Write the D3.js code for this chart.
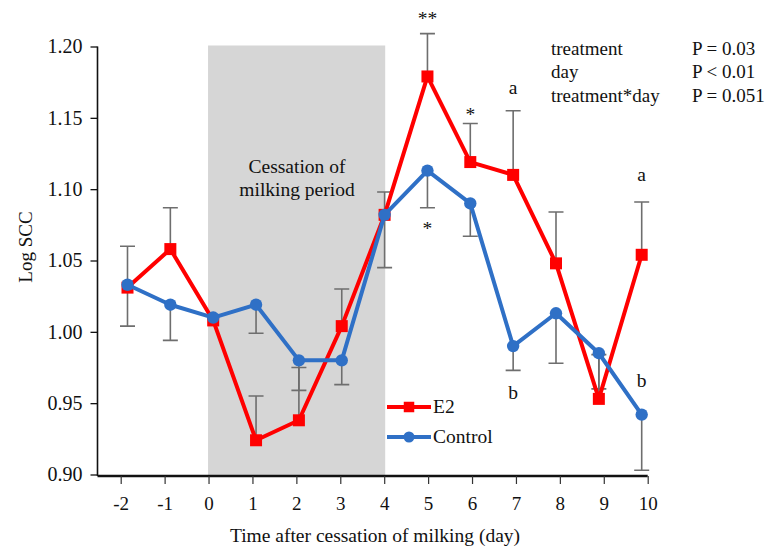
<!DOCTYPE html>
<html>
<head>
<meta charset="utf-8">
<script src="https://cdn.jsdelivr.net/npm/d3@7"></script>
<style>
  html, body { margin: 0; padding: 0; background: #fff; }
  svg { display: block; font-family: "Liberation Serif", "Times New Roman", serif; }
</style>
</head>
<body>
<svg id="chart" width="768" height="549"></svg>
<script>
// Days after cessation of milking
const days = [-2, -1, 0, 1, 2, 3, 4, 5, 6, 7, 8, 9, 10];
const xTickLabels = ["-2", "-1", "0", "1", "2", "3", "4", "5", "6", "7", "8", "9", "10"];
const yTickValues = [0.90, 0.95, 1.00, 1.05, 1.10, 1.15, 1.20];

// Mean log somatic cell counts
const e2Values      = [1.031, 1.058, 1.008, 0.924, 0.938, 1.004, 1.082, 1.179, 1.119, 1.110, 1.048, 0.953, 1.054];
const controlValues = [1.033, 1.019, 1.010, 1.019, 0.980, 0.980, 1.082, 1.113, 1.090, 0.990, 1.013, 0.985, 0.942];

// One-sided error bars: E2 drawn upward, Control drawn downward (null = none)
const e2ErrUp         = [0.029, 0.029, null, 0.031, 0.037, 0.026, 0.016, 0.030, 0.027, 0.045, 0.036, 0.031, 0.037];
const controlErrDown  = [0.029, 0.025, null, 0.020, 0.021, 0.017, 0.037, 0.026, 0.023, 0.017, 0.035, 0.025, 0.039];

// Significance marks: [day, baseline level on the Log SCC scale, text]
const marks = [
  [5, 1.215, "**"],
  [6, 1.148, "*"],
  [5, 1.068, "*"],
  [7, 1.167, "a"],
  [10, 1.106, "a"],
  [7, 0.953, "b"],
  [10, 0.961, "b"]
];

// Model effects
const statTerms  = ["treatment", "day", "treatment*day"];
const statPvalues = ["P = 0.03", "P < 0.01", "P = 0.051"];

const seriesNames = ["E2", "Control"];
const seriesColors = ["#ff0000", "#2f70c6"];

const FONT = 19.5;
const svg = d3.select("#chart");

// Scales: axis ticks and plotted points sit on slightly different spans
const xAxisScale = d3.scaleLinear().domain([-2, 10]).range([120.7, 647.7]);
const x = d3.scaleLinear().domain([-2, 10]).range([127.5, 641.7]);
const y = d3.scaleLinear().domain([0.90, 1.20]).range([474.5, 46.5]);

const plotLeft = 97.5, plotBottom = 476;

// Shaded cessation-of-milking period (day 0 to day 4)
svg.append("rect")
  .attr("x", xAxisScale(0) - 0.5)
  .attr("y", y(1.20) - 1)
  .attr("width", xAxisScale(4) - xAxisScale(0) + 1.5)
  .attr("height", plotBottom - y(1.20) + 1)
  .attr("fill", "#d6d6d6");

svg.append("text")
  .attr("x", 297).attr("y", 173)
  .attr("text-anchor", "middle")
  .attr("font-size", FONT).attr("fill", "#111")
  .text("Cessation of");
svg.append("text")
  .attr("x", 297).attr("y", 196)
  .attr("text-anchor", "middle")
  .attr("font-size", FONT).attr("fill", "#111")
  .text("milking period");

// Y axis
const yAxis = d3.axisLeft(y).tickValues(yTickValues).tickFormat(d3.format(".2f")).tickSize(7).tickPadding(8);
const gy = svg.append("g").attr("transform", `translate(${plotLeft},0)`).call(yAxis);
gy.select(".domain").attr("d", `M0,${y(1.20)}V${plotBottom}`).attr("stroke", "#111").attr("stroke-width", 1.6);
gy.selectAll(".tick line").attr("stroke", "#111").attr("stroke-width", 1.3);
gy.selectAll(".tick text").attr("font-size", 20).attr("fill", "#111")
  .attr("font-family", "Liberation Serif, Times New Roman, serif");

// X axis
const xAxis = d3.axisBottom(xAxisScale).tickValues(days).tickFormat((d, i) => xTickLabels[i]).tickSize(8).tickPadding(13);
const gx = svg.append("g").attr("transform", `translate(0,${plotBottom})`).call(xAxis);
gx.select(".domain").attr("d", `M${plotLeft},0H${xAxisScale(10)}`).attr("stroke", "#111").attr("stroke-width", 2.6);
gx.selectAll(".tick line").attr("stroke", "#333").attr("stroke-width", 1.2);
gx.selectAll(".tick text").attr("font-size", 19).attr("fill", "#111")
  .attr("font-family", "Liberation Serif, Times New Roman, serif");

// Axis titles
svg.append("text")
  .attr("x", 375).attr("y", 542)
  .attr("text-anchor", "middle")
  .attr("font-size", FONT).attr("fill", "#111")
  .text("Time after cessation of milking (day)");
svg.append("text")
  .attr("transform", `translate(32,247) rotate(-90)`)
  .attr("text-anchor", "middle")
  .attr("font-size", 19).attr("fill", "#111")
  .text("Log SCC");

// Error bars
const capHalf = 7.5;
const errGroup = svg.append("g").attr("stroke", "#6e6e6e").attr("stroke-width", 1.6).attr("fill", "none");
function drawErr(vals, errs, dir) {
  days.forEach((d, i) => {
    if (errs[i] == null) return;
    const cx = x(d);
    const y0 = y(vals[i]);
    const y1 = y(vals[i] + dir * errs[i]);
    errGroup.append("path").attr("d", `M${cx},${y0}V${y1}M${cx - capHalf},${y1}H${cx + capHalf}`);
  });
}
drawErr(e2Values, e2ErrUp, 1);
drawErr(controlValues, controlErrDown, -1);

// Lines and markers
const line = d3.line().x((d, i) => x(days[i])).y(d => y(d));
svg.append("path").datum(e2Values)
  .attr("d", line).attr("fill", "none")
  .attr("stroke", seriesColors[0]).attr("stroke-width", 4).attr("stroke-linejoin", "round");
const sq = 12;
svg.append("g").selectAll("rect").data(e2Values).join("rect")
  .attr("x", (d, i) => x(days[i]) - sq / 2)
  .attr("y", d => y(d) - sq / 2)
  .attr("width", sq).attr("height", sq)
  .attr("fill", seriesColors[0]);

svg.append("path").datum(controlValues)
  .attr("d", line).attr("fill", "none")
  .attr("stroke", seriesColors[1]).attr("stroke-width", 4).attr("stroke-linejoin", "round");
svg.append("g").selectAll("circle").data(controlValues).join("circle")
  .attr("cx", (d, i) => x(days[i]))
  .attr("cy", d => y(d))
  .attr("r", 6.2)
  .attr("fill", seriesColors[1]);

// Significance letters and stars
svg.append("g").selectAll("text").data(marks).join("text")
  .attr("x", d => x(d[0]))
  .attr("y", d => y(d[1]))
  .attr("text-anchor", "middle")
  .attr("font-size", FONT).attr("fill", "#111")
  .text(d => d[2]);

// Legend
const legend = svg.append("g");
const legendY = [407, 437];
const legendBaseline = [413, 443];
const lsq = 10.5;
seriesNames.forEach((name, i) => {
  legend.append("line")
    .attr("x1", 387).attr("x2", 431)
    .attr("y1", legendY[i]).attr("y2", legendY[i])
    .attr("stroke", seriesColors[i]).attr("stroke-width", 4);
  if (i === 0) {
    legend.append("rect").attr("x", 409 - lsq / 2).attr("y", legendY[i] - lsq / 2)
      .attr("width", lsq).attr("height", lsq).attr("fill", seriesColors[i]);
  } else {
    legend.append("circle").attr("cx", 409).attr("cy", legendY[i]).attr("r", 5.5).attr("fill", seriesColors[i]);
  }
  legend.append("text")
    .attr("x", 433).attr("y", legendBaseline[i])
    .attr("font-size", FONT).attr("fill", "#111")
    .text(name);
});

// Statistics table
const stats = svg.append("g").attr("font-size", 19).attr("fill", "#111");
statTerms.forEach((t, i) => {
  stats.append("text").attr("x", 551).attr("y", 55 + i * 23.4).text(t);
  stats.append("text").attr("x", 692).attr("y", 55 + i * 23.4).text(statPvalues[i]);
});
</script>
</body>
</html>
